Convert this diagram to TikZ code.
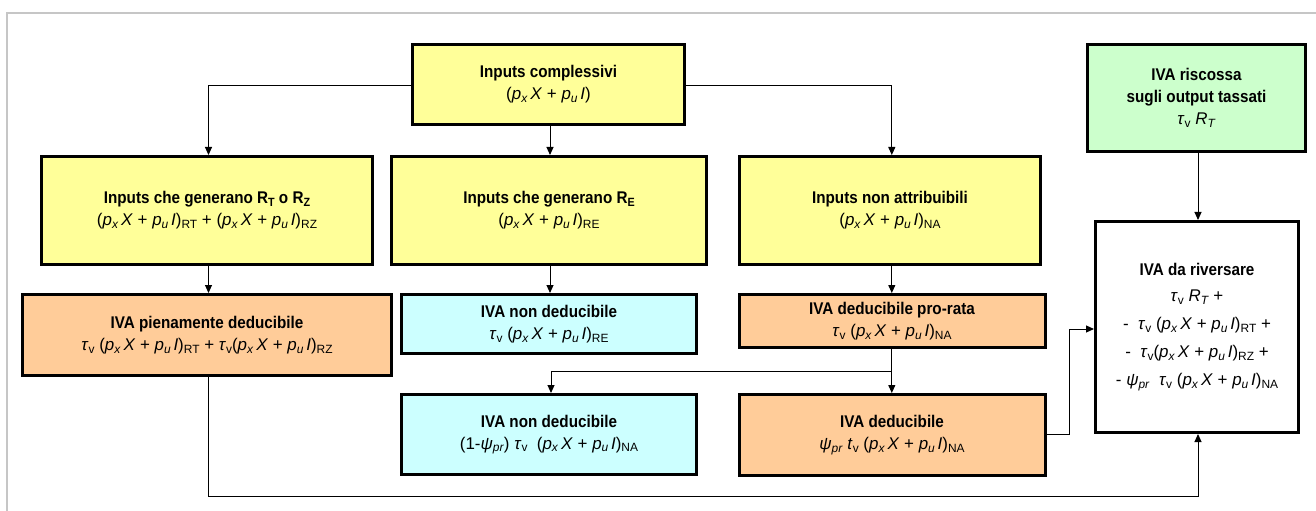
\documentclass[tikz,border=0pt]{standalone}
\usepackage{fontspec}
\setmainfont[FakeStretch=0.9]{Liberation Sans}
\newfontfamily\formfont{Liberation Sans}
\usetikzlibrary{arrows.meta,calc}
% formula helpers
\newcommand\lo[1]{\raisebox{-0.3ex}{\fontsize{12}{12}\selectfont #1}}
\newcommand\PX{\textit{p}\lo{\textit{x}}\,\textit{X}}
\newcommand\PU{\textit{p}\lo{\textit{u}}\,\textit{I}}
\newcommand\TV{\textit{τ}\lo{v}}
\newcommand\PSI{\textit{ψ}\lo{\textit{pr}}}
\newcommand\RTx{\textit{R}\lo{\textit{T}}}
\newcommand\PP{(\PX\ + \PU)}
\tikzset{
  box/.style={draw=black, line width=3bp, inner sep=0pt, align=center,
    font=\fontsize{17}{22}\selectfont},
  yel/.style={box, fill={rgb,255:red,255;green,255;blue,153}},
  ora/.style={box, fill={rgb,255:red,255;green,204;blue,153}},
  cya/.style={box, fill={rgb,255:red,204;green,255;blue,255}},
  gre/.style={box, fill={rgb,255:red,204;green,255;blue,204}},
  whi/.style={box, fill=white},
  conn/.style={draw=black, line width=1bp},
  arr/.style={conn, -{Triangle[length=8bp,width=7bp]}}
}
\newcommand\F[1]{{\formfont\mdseries\fontsize{17}{22}\selectfont #1}}
\begin{document}
\begin{tikzpicture}[x=1bp,y=-1bp]
\useasboundingbox (0,0) rectangle (1316,511);
\fill[white] (0,0) rectangle (1316,511);
% outer frame
\draw[gray!45, line width=1.5bp] (7,511) -- (7,13) -- (1316,13);

% top row
\node[yel, minimum width=272bp, minimum height=80bp] (comp) at (548.5,84.5)
  {\textbf{Inputs complessivi}\\ \F{(\PX\ + \PU)}};
\node[gre, minimum width=218bp, minimum height=107bp] (out) at (1196.5,98)
  {\textbf{IVA riscossa}\\ \textbf{sugli output tassati}\\ \F{\TV\ \RTx}};

% second row
\node[yel, minimum width=331bp, minimum height=108bp] (rtz) at (207,210.5)
  {\textbf{Inputs che generano R\lo{T} o R\lo{Z}}\\ \F{\PP\lo{RT} + \PP\lo{RZ}}};
\node[yel, minimum width=315bp, minimum height=108bp] (re) at (549,210.5)
  {\textbf{Inputs che generano R\lo{E}}\\ \F{\PP\lo{RE}}};
\node[yel, minimum width=301bp, minimum height=108bp] (na) at (890,210.5)
  {\textbf{Inputs non attribuibili}\\ \F{\PP\lo{NA}}};

% result box
\node[whi, minimum width=203bp, minimum height=211bp, font=\fontsize{17}{25}\selectfont] (tot) at (1197,327)
  {\textbf{IVA da riversare}\\[1bp] \F{\TV\ \RTx\ +}\\[3bp] \F{-\ \ \TV\ \PP\lo{RT} +}\\[3bp]
   \F{-\ \ \TV\PP\lo{RZ} +}\\[3bp] \F{- \PSI\ \ \TV\ \PP\lo{NA}}};

% third row
\node[ora, minimum width=369bp, minimum height=81bp] (full) at (207,335)
  {\textbf{IVA pienamente deducibile}\\ \F{\TV\ \PP\lo{RT} + \TV\PP\lo{RZ}}};
\node[cya, minimum width=295bp, minimum height=59bp] (rend) at (549,324)
  {\textbf{IVA non deducibile}\\ \F{\TV\ \PP\lo{RE}}};
\node[ora, minimum width=306bp, minimum height=53bp] (pro) at (892,321)
  {\textbf{IVA deducibile pro-rata}\\ \F{\TV\ \PP\lo{NA}}};

% fourth row
\node[cya, minimum width=295bp, minimum height=80bp] (nand) at (549,434.5)
  {\textbf{IVA non deducibile}\\ \F{(1-\PSI)\ \TV\ \ \PP\lo{NA}}};
\node[ora, minimum width=306bp, minimum height=81bp] (ded) at (892,435)
  {\textbf{IVA deducibile}\\ \F{\PSI\ \textit{t}\lo{v}\ \PP\lo{NA}}};

% connectors
\coordinate (lb) at (208.5,85.7);
\coordinate (rb) at (891.8,85.7);
\draw[arr] (comp.west |- lb) -| (rtz.north -| lb);
\draw[arr] (comp.south -| 550,0) -- (re.north -| 550,0);
\draw[arr] (comp.east |- rb) -| (na.north -| rb);
\draw[arr] (out.south -| 1198,0) -- (tot.north -| 1198,0);
\draw[arr] (rtz.south -| lb) -- (full.north -| lb);
\draw[arr] (re.south -| 550,0) -- (rend.north -| 550,0);
\draw[arr] (na.south -| rb) -- (pro.north -| rb);
\draw[arr] (pro.south -| rb) -- (ded.north -| rb);
\coordinate (split) at (891.8,371.7);
\draw[arr] (split) -| (nand.north -| 551,0);
\coordinate (elb) at (1069.5,434.3);
\draw[arr] (ded.east |- elb) -| (1069.5,329) -- (tot.west |- 0,329);
\coordinate (bot) at (1198,496);
\draw[arr] (full.south -| lb) |- (bot) -- (tot.south -| bot);
\end{tikzpicture}
\end{document}
